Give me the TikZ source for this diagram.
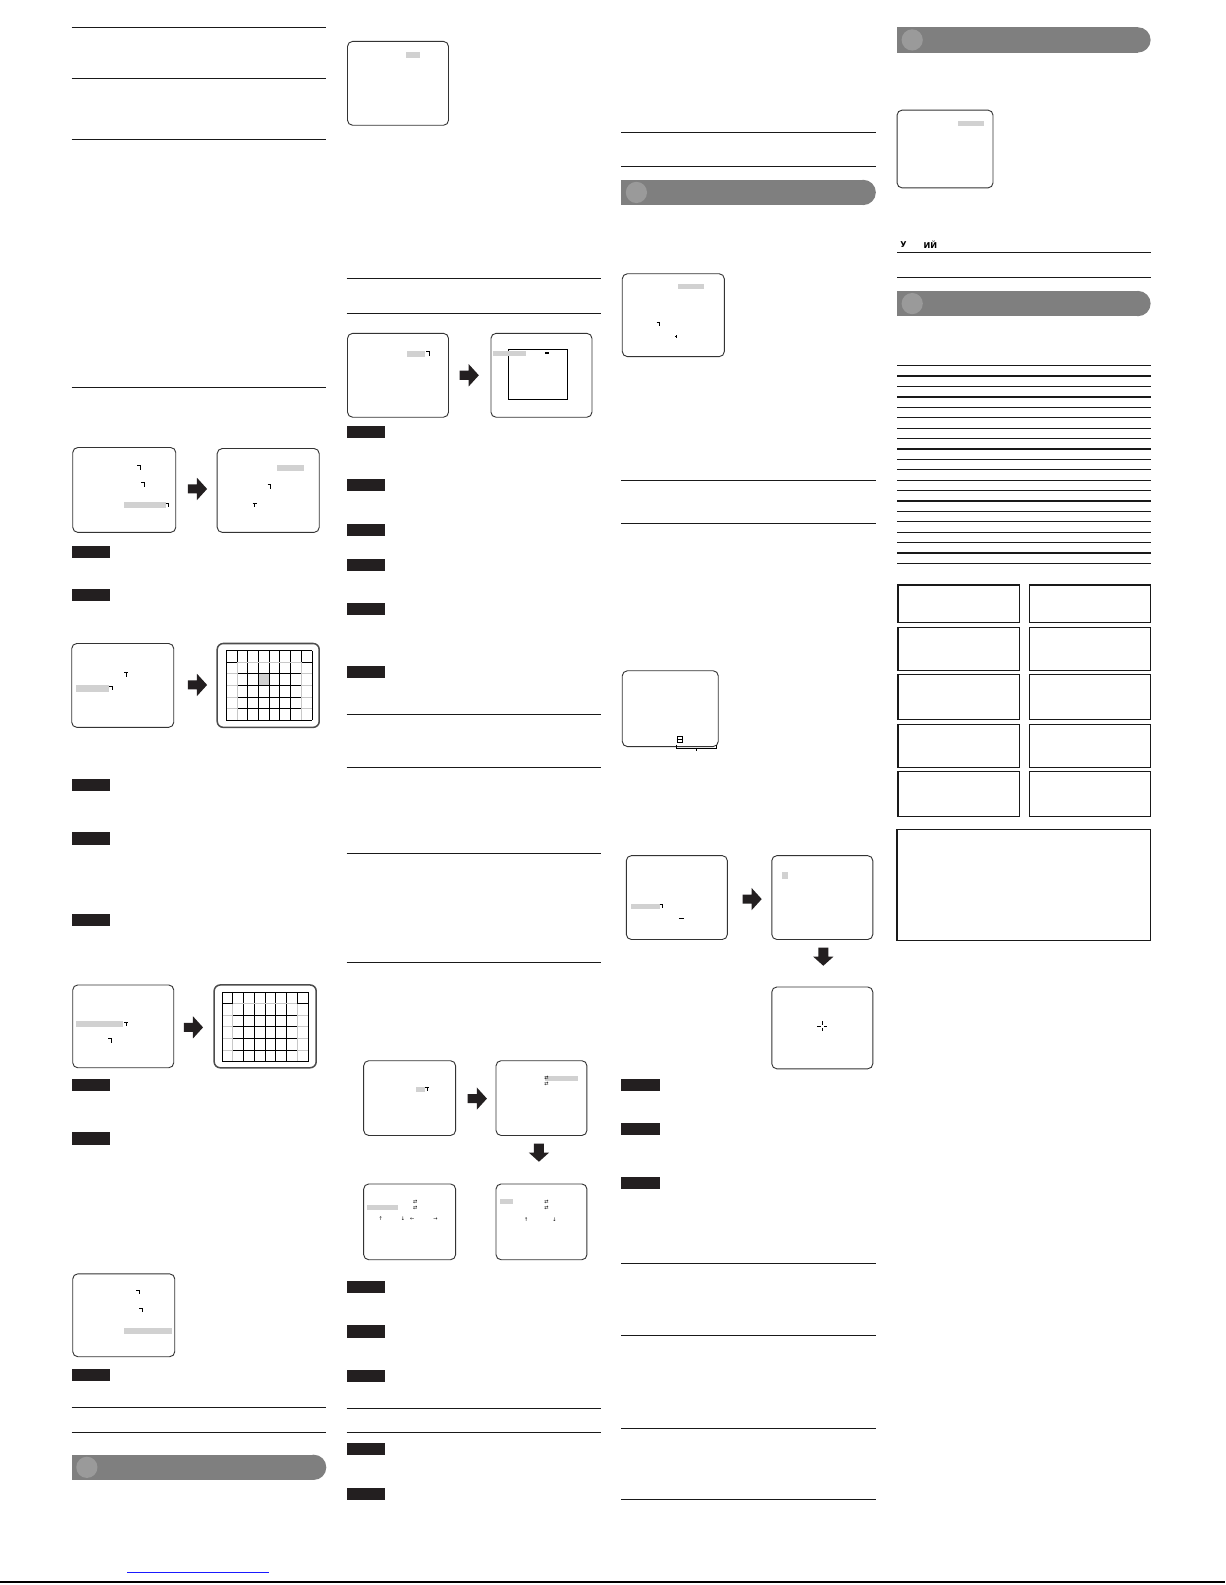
\documentclass[tikz,border=0pt]{standalone}
\usepackage{fontspec}
\newfontfamily\cyrfont{DejaVu Sans}
\definecolor{barfill}{HTML}{7F7F7F}
\definecolor{dotfill}{HTML}{9A9A9A}
\definecolor{tagfill}{HTML}{231F20}
\definecolor{hlfill}{HTML}{D1D1D1}
\definecolor{gridgray}{HTML}{C8C8C8}
\definecolor{linkblue}{HTML}{1A1AFF}
\tikzset{
  screen/.style={draw=black!80, line width=0.9pt, rounded corners=5pt},
  tvscreen/.style={draw=black!70, line width=1.5pt, rounded corners=6pt},
  rulel/.style={draw=black!90, line width=1.1pt},
  boxl/.style={draw=black!90, line width=1.2pt},
  hl/.style={fill=hlfill},
  gridline/.style={draw=black, line width=1pt},
  gridlight/.style={draw=gridgray, line width=1pt},
  tick/.style={draw=black, line width=0.8pt},
  glyph/.style={inner sep=0pt, font=\cyrfont\fontsize{5}{5}\selectfont},
}
% black label tab
\newcommand{\tagbox}[2]{\fill[tagfill] (#1,#2) rectangle (#1+38,#2+12);}
% block arrows
\newcommand{\blockright}[2]{\fill[tagfill] (#1,#2-4.5) -- (#1+9,#2-4.5) -- (#1+9,#2-11) -- (#1+19,#2) -- (#1+9,#2+11) -- (#1+9,#2+4.5) -- (#1,#2+4.5) -- cycle;}
\newcommand{\blockdown}[2]{\fill[tagfill] (#1-5,#2) -- (#1+5,#2) -- (#1+5,#2+9) -- (#1+10,#2+9) -- (#1,#2+18) -- (#1-10,#2+9) -- (#1-5,#2+9) -- cycle;}
% grey heading bar
\newcommand{\headbar}[3]{%
  \fill[barfill] (#1,#3) rectangle (#2-12.5,#3+25);
  \fill[barfill] (#2-12.5,#3+12.5) circle[radius=12.5pt];
  \fill[dotfill] (#1+15,#3+12.5) circle[radius=10.5pt];}
% small return mark
\newcommand{\retmark}[2]{\draw[tick] (#1-2,#2-2) -- (#1+1,#2-2) -- (#1+1,#2+2);}
\newcommand{\tmark}[2]{\draw[tick] (#1-2,#2-2) -- (#1+2,#2-2) (#1,#2-2) -- (#1,#2+2);}
% zone grid 8x6
\newcommand{\zonegrid}[4]{%
  \foreach \i in {0,...,8}
    {\draw[gridline] ({#1+(#3-#1)*\i/8},#2) -- ({#1+(#3-#1)*\i/8},#4);}
  \foreach \j in {0,...,6}
    {\draw[gridline] (#1,{#2+(#4-#2)*\j/6}) -- (#3,{#2+(#4-#2)*\j/6});}
  \draw[gridlight] ({#1+(#3-#1)/8},{#2+(#4-#2)/6}) -- ({#1+(#3-#1)*7/8},{#2+(#4-#2)/6});
  \foreach \i in {1,7}
    {\draw[gridlight] ({#1+(#3-#1)*\i/8},{#2+(#4-#2)/6}) -- ({#1+(#3-#1)*\i/8},{#4-0.5});}
  \foreach \j in {2,...,5} {
    \draw[gridlight] (#1+0.5,{#2+(#4-#2)*\j/6}) -- ({#1+(#3-#1)/8},{#2+(#4-#2)*\j/6});
    \draw[gridlight] ({#1+(#3-#1)*7/8},{#2+(#4-#2)*\j/6}) -- (#3-0.5,{#2+(#4-#2)*\j/6});}}
\begin{document}
\begin{tikzpicture}[x=1pt,y=-1pt]
	\tikzset{every node/.append style={inner sep=0pt}}
	\useasboundingbox (0,0) rectangle (1213,1569);
	\fill[white] (0,0) rectangle (1213,1569);
	% rules, column 1
	\foreach \y in {27,78,138,384,1393,1418}
		{\draw[rulel] (71,\y) -- (323,\y);}
	% rules, column 2
	\foreach \y in {276,310,707,760,845,953,1394,1418}
		{\draw[rulel] (343,\y) -- (595,\y);}
	% rules, column 3
	\foreach \y in {131,165,476,518,1251,1322,1414,1484}
		{\draw[rulel] (615,\y) -- (867,\y);}
	% rules, column 4
	\foreach \y in {250,275}
		{\draw[rulel] (888,\y) -- (1139,\y);}
	% label tabs
	\foreach \y in {540,583,771,824,905,1068,1121,1355}
		{\tagbox{71}{\y}}
	\foreach \y in {422,474,519,553,597,659,1268,1312,1356,1428,1473}
		{\tagbox{343}{\y}}
	\foreach \y in {1068,1112,1165}
		{\tagbox{615}{\y}}
	% heading bars
	\headbar{71}{323}{1440}
	\headbar{615}{867}{178}
	\headbar{888}{1139}{27}
	\headbar{888}{1139}{288}

	% column 1 screens
	\draw[screen] (72,443) rectangle (174,527);
	\retmark{138}{463}
	\retmark{142}{480}
	\fill[hl] (123,497) rectangle (164,503);
	\retmark{166}{500}
	\blockright{186}{484}
	\draw[screen] (215,444) rectangle (316,527);
	\fill[hl] (274,460) rectangle (301,466);
	\retmark{267}{482}
	\tmark{252}{500}

	\draw[screen] (71,637) rectangle (172,720);
	\tmark{125}{668}
	\fill[hl] (75,678) rectangle (108,685);
	\retmark{110}{681}
	\blockright{186}{678}
	\draw[tvscreen] (215,637) rectangle (316,720);
	\fill[hl] ({224+85*3/8},{644+69*2/6}) rectangle ({224+85*4/8},{644+69*3/6});
	\zonegrid{224}{644}{309}{713}

	\draw[screen] (72,975) rectangle (172,1057);
	\fill[hl] (75,1011) rectangle (122,1017);
	\tmark{125}{1014}
	\retmark{109}{1030}
	\blockright{182}{1017}
	\draw[tvscreen] (212,975) rectangle (313,1057);
	\zonegrid{220}{982}{305}{1051}

	\draw[screen] (72,1261) rectangle (173,1343);
	\retmark{137}{1279}
	\retmark{140}{1297}
	\fill[hl] (123,1315) rectangle (170,1321);
	\draw[linkblue, line width=0.9pt] (126,1557) -- (266,1557);
	\draw[black, line width=1.5pt] (0,1566) -- (1213,1566);

	% column 2 screens
	\draw[screen] (344,41) rectangle (444,124);
	\fill[hl] (402,51) rectangle (416,57);
	\draw[screen] (344,330) rectangle (444,413);
	\fill[hl] (403,347) rectangle (421,353);
	\retmark{424}{350}
	\blockright{455}{371.5}
	\draw[screen] (486,330) rectangle (586,413);
	\draw[gridline] (503,346) rectangle (562,395);
	\fill[hl] (488,347) rectangle (521,352);
	\fill[black] (539,348) rectangle (543,350.5);

	\draw[screen] (360,1050) rectangle (451,1124);
	\fill[hl] (412,1076) rectangle (421,1081);
	\tmark{423}{1078}
	\blockright{463}{1087.5}
	\draw[screen] (491,1050) rectangle (581,1124);
	\fill[hl] (539,1065) rectangle (572,1070);
	\node[glyph] (fa) at (541,1067) {⇄};
	\node[glyph] (fb) at (541,1072.5) {⇄};
	\blockdown{533.5}{1132}
	\draw[screen] (360,1172) rectangle (451,1247);
	\fill[hl] (363,1193) rectangle (394,1198);
	\node[glyph] (ga) at (411,1190) {⇄};
	\node[glyph] (gb) at (411,1195.5) {⇄};
	\node[glyph] (gup) at (377,1206) {↑};
	\node[glyph] (gdn) at (399,1206) {↓};
	\node[glyph] (glt) at (408,1207) {←};
	\node[glyph] (grt) at (431,1207) {→};
	\draw[screen] (491,1172) rectangle (581,1247);
	\fill[hl] (495,1187) rectangle (508,1192);
	\node[glyph] (ha) at (541,1190) {⇄};
	\node[glyph] (hb) at (541,1195.5) {⇄};
	\node[glyph] (hup) at (521,1207) {↑};
	\node[glyph] (hdn) at (549,1207) {↓};

	% column 3 screens
	\draw[screen] (616,271) rectangle (717,353);
	\fill[hl] (671,281) rectangle (697,286);
	\retmark{652}{321}
	\draw[tick] (668,333) -- (670,333) (669.5,332) -- (669.5,335);

	\draw[screen] (616,664) rectangle (711,739);
	\draw[tick, line width=0.6pt] (670,729) rectangle (675,735) (670,732) -- (675,732);
	\draw[tick, line width=0.6pt] (669,737) -- (669,741) -- (709,741) -- (709,737) (689,741) -- (689,743);

	\draw[screen] (620,847) rectangle (720,930);
	\fill[hl] (625,895) rectangle (653,900);
	\retmark{655}{897}
	\draw[tick, line width=0.6pt] (672,909) -- (677,909);
	\blockright{735}{890}
	\draw[screen] (764,847) rectangle (864,930);
	\fill[hl] (774,863) rectangle (780,870);
	\blockdown{815}{938}
	\draw[screen] (764,977) rectangle (864,1058);
	\draw[tick, line width=0.6pt] (814,1011) -- (814,1014.5) (814,1017.5) -- (814,1021)
		(809,1016) -- (812.5,1016) (815.5,1016) -- (819,1016);

	% column 4
	\draw[screen] (888,109) rectangle (983,186);
	\fill[hl] (948,120) rectangle (974,125);
	\node[anchor=west, font=\cyrfont\bfseries\fontsize{8}{9}\selectfont] (yu) at (891,242) {У};
	\node[anchor=west, font=\cyrfont\bfseries\fontsize{8}{9}\selectfont] (iy) at (914,242) {ИЙ};
	\foreach \i in {0,...,19}
		{\draw[boxl] (888,{362+10.3*\i}) -- (1139,{362+10.3*\i});}
	\foreach \a/\b in {579/616,621/664,668/712,717/760,764/808} {
		\draw[boxl] (889,\a) rectangle (1009,\b);
		\draw[boxl] (1019,\a) rectangle (1139,\b);}
	\draw[boxl] (888,821) rectangle (1139,931);
\end{tikzpicture}
\end{document}
